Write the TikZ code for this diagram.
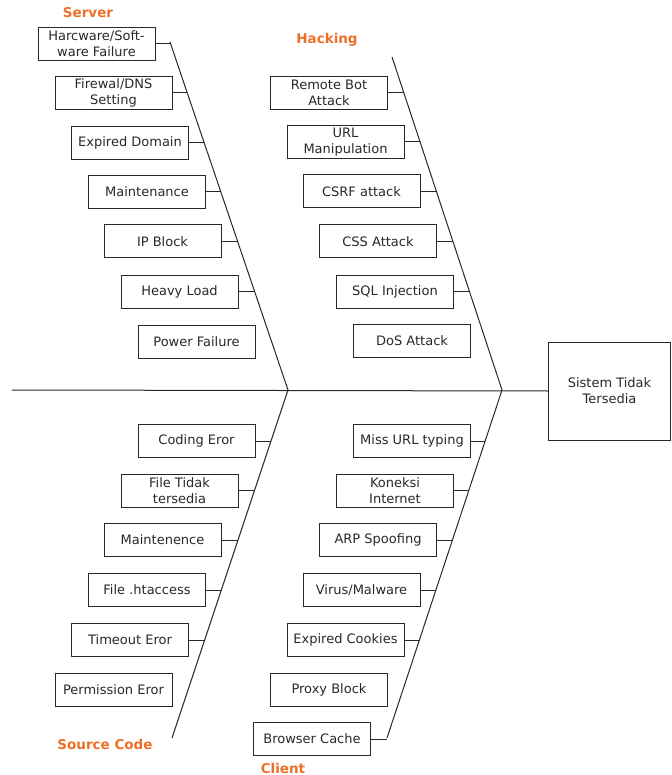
\documentclass[tikz,border=0pt]{standalone}
\usepackage{fontspec}
\setmainfont{DejaVu Sans}
\definecolor{lbl}{RGB}{238,112,40}
\definecolor{ink}{RGB}{40,40,40}
\begin{document}
\begin{tikzpicture}[x=1pt,y=-1pt,
  cause/.style={draw=ink,line width=1pt,minimum width=117pt,minimum height=33pt,inner sep=0pt,align=center,font=\fontsize{13}{16}\selectfont,text=ink},
  cat/.style={font=\fontsize{13.5}{15}\selectfont\bfseries,text=lbl},
  bone/.style={draw=ink,line width=1pt},
  twig/.style={draw=ink,line width=1pt}]
\useasboundingbox (0,0) rectangle (671,775);
% main line and effect
\coordinate (tail) at (12,390);
\coordinate (apexA) at (288,390);
\coordinate (apexB) at (502,390);
\node[cause,minimum width=122pt,minimum height=98pt,anchor=west] (effect) at (548,391) {Sistem Tidak\\Tersedia};
\draw[bone] (tail) -- (effect.west);
% spines
\coordinate (sTop) at (170,42);
\coordinate (hTop) at (392,57);
\coordinate (cBot) at (172,738);
\coordinate (kBot) at (387,738);
\draw[bone] (sTop) -- (apexA) -- (cBot);
\draw[bone] (hTop) -- (apexB) -- (kBot);
% category labels
\node[cat] (lServer) at (88,13) {Server};
\node[cat] (lHack) at (327,40) {Hacking};
\node[cat] (lSrc) at (105,744) {Source Code};
\node[cat] (lCli) at (283,768) {Client};
% Server
\node[cause] (s1) at (96.5,44) {Harcware/Soft-\\ware Failure};
\node[cause] (s2) at (113.5,93) {Firewal/DNS\\Setting};
\node[cause] (s3) at (130,143) {Expired Domain};
\node[cause] (s4) at (147,192) {Maintenance};
\node[cause] (s5) at (162.5,241.5) {IP Block};
\node[cause] (s6) at (179.5,291.5) {Heavy Load};
\node[cause] (s7) at (196.5,341.5) {Power Failure};
\coordinate (js1) at (170.7,44);
\coordinate (js2) at (187.3,93);
\coordinate (js3) at (204.2,143);
\coordinate (js4) at (220.9,192);
\coordinate (js5) at (237.7,241.5);
\coordinate (js6) at (254.6,291.5);
\foreach \i in {1,...,6} \draw[twig] (s\i.east) -- (js\i);
% Hacking
\node[cause] (h1) at (329,93) {Remote Bot\\Attack};
\node[cause] (h2) at (345.5,142) {URL\\Manipulation};
\node[cause] (h3) at (361.5,191.5) {CSRF attack};
\node[cause] (h4) at (378,241.5) {CSS Attack};
\node[cause] (h5) at (395,291.5) {SQL Injection};
\node[cause] (h6) at (412,341) {DoS Attack};
\coordinate (jh1) at (403.9,93);
\coordinate (jh2) at (420.1,142);
\coordinate (jh3) at (436.4,191.5);
\coordinate (jh4) at (452.9,241.5);
\coordinate (jh5) at (469.4,291.5);
\foreach \i in {1,...,5} \draw[twig] (h\i.east) -- (jh\i);
% Source Code
\node[cause] (c1) at (196.5,441) {Coding Eror};
\node[cause] (c2) at (179.5,490.5) {File Tidak\\tersedia};
\node[cause] (c3) at (162.5,540) {Maintenence};
\node[cause] (c4) at (147,590) {File .htaccess};
\node[cause] (c5) at (130,640) {Timeout Eror};
\node[cause] (c6) at (113.5,689.5) {Permission Eror};
\coordinate (jc1) at (271,441);
\coordinate (jc2) at (254.5,490.5);
\coordinate (jc3) at (238,540);
\coordinate (jc4) at (221.3,590);
\coordinate (jc5) at (204.7,640);
\foreach \i in {1,...,5} \draw[twig] (c\i.east) -- (jc\i);
% Client
\node[cause] (k1) at (412,441) {Miss URL typing};
\node[cause] (k2) at (395,490.5) {Koneksi\\Internet};
\node[cause] (k3) at (378,540) {ARP Spoofing};
\node[cause] (k4) at (361.5,590) {Virus/Malware};
\node[cause] (k5) at (345.5,640) {Expired Cookies};
\node[cause] (k6) at (329,689.5) {Proxy Block};
\node[cause] (k7) at (312,739) {Browser Cache};
\coordinate (jk1) at (485.1,441);
\coordinate (jk2) at (468.8,490.5);
\coordinate (jk3) at (452.4,540);
\coordinate (jk4) at (435.9,590);
\coordinate (jk5) at (419.4,640);
\coordinate (jk7) at (387,739);
\foreach \i in {1,...,5} \draw[twig] (k\i.east) -- (jk\i);
\draw[twig] (k7.east) -- (jk7);
\end{tikzpicture}
\end{document}
